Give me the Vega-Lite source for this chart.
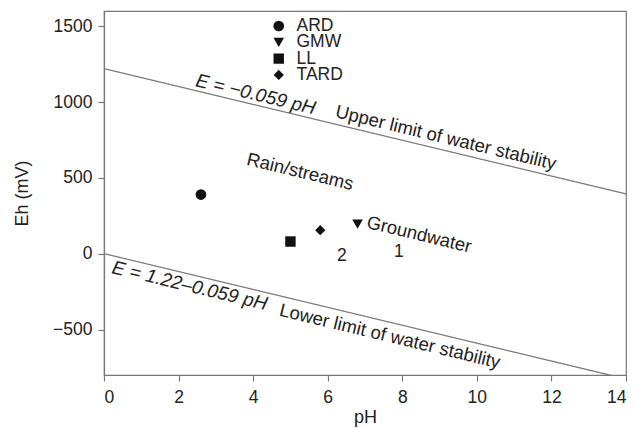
{
  "$schema": "https://vega.github.io/schema/vega-lite/v6.json",
  "width": 522,
  "height": 364,
  "autosize": {"type": "none"},
  "padding": {"left": 104, "top": 11, "right": 9, "bottom": 53},
  "background": "white",
  "config": {
    "font": "Liberation Sans",
    "view": {"stroke": "#777777", "strokeWidth": 1.2},
    "axis": {
      "grid": false,
      "domainColor": "#777777",
      "domainWidth": 1.2,
      "tickColor": "#777777",
      "tickSize": 6,
      "tickWidth": 1.2,
      "labelFont": "Liberation Sans",
      "labelFontSize": 17.5,
      "labelColor": "#222222",
      "titleFont": "Liberation Sans",
      "titleFontSize": 18,
      "titleFontWeight": "normal",
      "titleColor": "#222222"
    }
  },
  "datasets": {
    "points": [
      {"series": "ARD", "pH": 2.6, "Eh": 390},
      {"series": "GMW", "pH": 6.8, "Eh": 195},
      {"series": "LL", "pH": 5.0, "Eh": 80},
      {"series": "TARD", "pH": 5.8, "Eh": 155}
    ],
    "limits": [
      {"limit": "upper", "pH": 0, "Eh": 1220},
      {"limit": "upper", "pH": 14, "Eh": 394},
      {"limit": "lower", "pH": 0, "Eh": 0},
      {"limit": "lower", "pH": 14, "Eh": -826}
    ],
    "formulas": [
      {"label": "E = −0.059 pH", "pH": 4.07, "Eh": 1050},
      {"label": "E = 1.22–0.059 pH", "pH": 2.3, "Eh": -212}
    ],
    "slanted": [
      {"label": "Upper limit of water stability", "pH": 9.17, "Eh": 765},
      {"label": "Rain/streams", "pH": 5.26, "Eh": 541},
      {"label": "Groundwater", "pH": 8.45, "Eh": 127},
      {"label": "Lower limit of water stability", "pH": 7.67, "Eh": -544}
    ],
    "zones": [
      {"label": "2", "pH": 6.38, "Eh": -18},
      {"label": "1", "pH": 7.91, "Eh": 9}
    ]
  },
  "layer": [
    {
      "data": {"name": "limits"},
      "mark": {"type": "line", "color": "#777777", "strokeWidth": 1.3, "clip": true},
      "encoding": {
        "x": {"field": "pH", "type": "quantitative", "scale": {"domain": [0, 14], "nice": false},
              "axis": {"values": [0, 2, 4, 6, 8, 10, 12, 14], "title": "pH", "labelPadding": 7, "titlePadding": 3}},
        "y": {"field": "Eh", "type": "quantitative", "scale": {"domain": [-800, 1600], "nice": false, "zero": false},
              "axis": {"values": [-500, 0, 500, 1000, 1500], "format": "d", "title": "Eh (mV)", "labelPadding": 6, "titlePadding": 21}},
        "detail": {"field": "limit"}
      }
    },
    {
      "data": {"name": "points"},
      "mark": {"type": "point", "filled": true, "opacity": 1, "color": "#111111"},
      "encoding": {
        "x": {"field": "pH", "type": "quantitative"},
        "y": {"field": "Eh", "type": "quantitative"},
        "shape": {"field": "series", "type": "nominal",
                  "scale": {"domain": ["ARD", "GMW", "LL", "TARD"], "range": ["circle", "triangle-down", "square", "diamond"]},
                  "legend": {"orient": "none", "legendX": 166, "legendY": 8, "title": null,
                             "labelFontSize": 17.5, "labelColor": "#222222", "labelFont": "Liberation Sans",
                             "symbolFillColor": "#111111", "symbolStrokeColor": "#111111", "symbolStrokeWidth": 0,
                             "rowPadding": -1.7, "clipHeight": 14, "labelOffset": 9}},
        "size": {"field": "series", "type": "nominal",
                 "scale": {"domain": ["ARD", "GMW", "LL", "TARD"], "range": [115, 105, 58, 200]}}
      }
    },
    {
      "data": {"name": "formulas"},
      "mark": {"type": "text", "angle": 13.5, "align": "center", "baseline": "middle", "fontSize": 19, "fontStyle": "italic", "color": "#222222"},
      "encoding": {
        "x": {"field": "pH", "type": "quantitative"},
        "y": {"field": "Eh", "type": "quantitative"},
        "text": {"field": "label"}
      }
    },
    {
      "data": {"name": "slanted"},
      "mark": {"type": "text", "angle": 13.5, "align": "center", "baseline": "middle", "fontSize": 18.5, "color": "#222222"},
      "encoding": {
        "x": {"field": "pH", "type": "quantitative"},
        "y": {"field": "Eh", "type": "quantitative"},
        "text": {"field": "label"}
      }
    },
    {
      "data": {"name": "zones"},
      "mark": {"type": "text", "align": "center", "baseline": "middle", "fontSize": 17.5, "color": "#222222"},
      "encoding": {
        "x": {"field": "pH", "type": "quantitative"},
        "y": {"field": "Eh", "type": "quantitative"},
        "text": {"field": "label"}
      }
    }
  ]
}
